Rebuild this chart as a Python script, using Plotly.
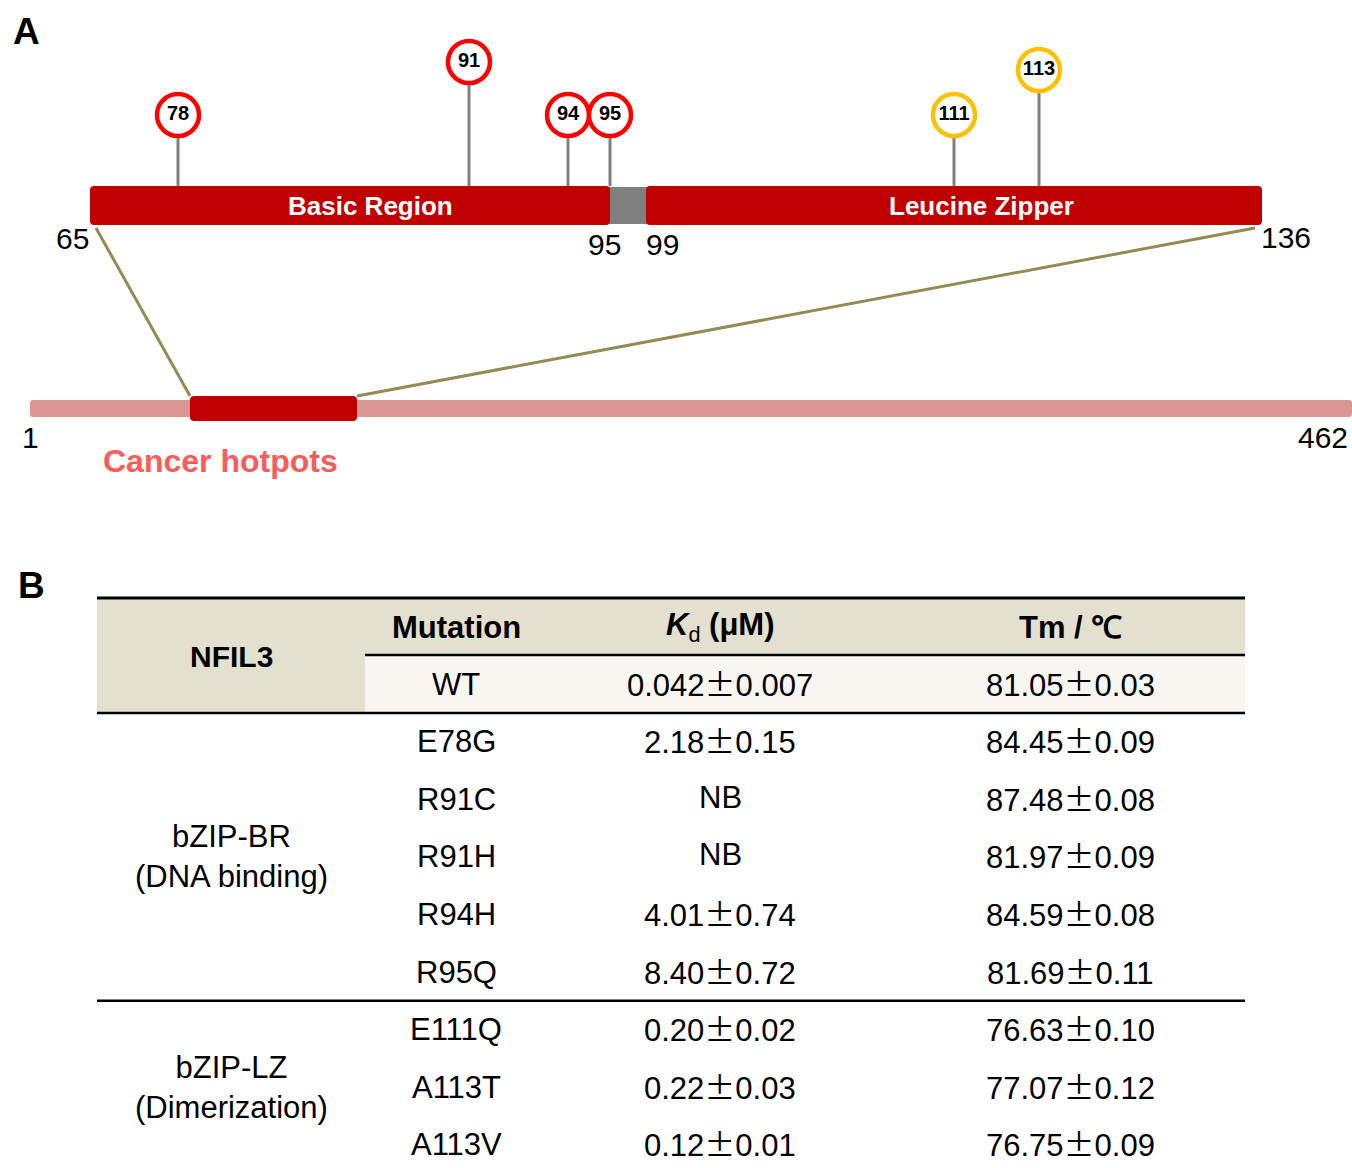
import plotly.graph_objects as go

# ---------------- data ----------------
domain_names = ["Basic Region", "Leucine Zipper"]
domain_bounds = [65, 95, 99, 136]          # residue boundaries labelled on the zoom bar
full_bounds = [1, 462]                      # full-length protein
mut_residues = [78, 91, 94, 95, 111, 113]
mut_group = ["BR", "BR", "BR", "BR", "LZ", "LZ"]
hotspot_label = "Cancer hotpots"

groups = ["bZIP-BR<br>(DNA binding)", "bZIP-LZ<br>(Dimerization)"]
group_sizes = [5, 3]
mutations = ["WT", "E78G", "R91C", "R91H", "R94H", "R95Q", "E111Q", "A113T", "A113V"]
kd_vals = ["0.042±0.007", "2.18±0.15", "NB", "NB", "4.01±0.74", "8.40±0.72",
           "0.20±0.02", "0.22±0.03", "0.12±0.01"]
tm_vals = ["81.05±0.03", "84.45±0.09", "87.48±0.08", "81.97±0.09", "84.59±0.08",
           "81.69±0.11", "76.63±0.10", "77.07±0.12", "76.75±0.09"]

# ---------------- schematic layout (pixel canvas) ----------------
W, H = 1352, 1168
FONT = "Liberation Sans, Arial, sans-serif"
DARKRED = "#C00000"
bar_y0, bar_y1 = 186, 225
dom_px = {65: 90, 95: 610, 99: 646, 136: 1262}
lolli_px = {78: 178, 91: 469, 94: 568, 95: 610, 111: 954, 113: 1039}
lolli_level = {78: 115, 91: 62, 94: 115, 95: 115, 111: 115, 113: 70}
group_color = {"BR": "#FF0000", "LZ": "#FFC000"}
full_px = {1: 30, 462: 1352}
hot_x0, hot_x1 = 190, 357

def rrect(x0, y0, x1, y1, r):
    return (f"M{x0+r},{y0} L{x1-r},{y0} Q{x1},{y0} {x1},{y0+r} L{x1},{y1-r} "
            f"Q{x1},{y1} {x1-r},{y1} L{x0+r},{y1} Q{x0},{y1} {x0},{y1-r} "
            f"L{x0},{y0+r} Q{x0},{y0} {x0+r},{y0} Z")

shapes = []
annotations = []

def text(x, y, s, size=32, color="black", bold=False, xanchor="center", family=FONT):
    annotations.append(dict(x=x, y=y, xref="x", yref="y", text=(f"<b>{s}</b>" if bold else s),
                            showarrow=False, xanchor=xanchor, yanchor="middle",
                            font=dict(size=size, color=color, family=family)))

# Panel labels
text(11, 31, "A", size=37, bold=True, xanchor="left")
text(16, 585, "B", size=37, bold=True, xanchor="left")

# ---- domain bar ----
shapes.append(dict(type="rect", x0=dom_px[95] - 2, x1=dom_px[99] + 2, y0=bar_y0 + 1, y1=bar_y1 - 1,
                   fillcolor="#808080", line_width=0, layer="below"))
shapes.append(dict(type="path", path=rrect(dom_px[65], bar_y0, dom_px[95], bar_y1, 4),
                   fillcolor=DARKRED, line=dict(width=0)))
shapes.append(dict(type="path", path=rrect(dom_px[99], bar_y0, dom_px[136], bar_y1, 4),
                   fillcolor=DARKRED, line=dict(width=0)))
text(370, 206, domain_names[0], size=26, color="white", bold=True)
text(981, 206, domain_names[1], size=26, color="white", bold=True)
text(72, 238, str(domain_bounds[0]), size=30)
text(604, 244, str(domain_bounds[1]), size=30)
text(662, 244, str(domain_bounds[2]), size=30)
text(1286, 237, str(domain_bounds[3]), size=30)

# ---- full-length bar ----
shapes.append(dict(type="path", path=rrect(full_px[1], 400, full_px[462], 417, 3),
                   fillcolor="#D99694", line=dict(width=0)))
shapes.append(dict(type="path", path=rrect(hot_x0, 396, hot_x1, 421, 4),
                   fillcolor=DARKRED, line=dict(width=0)))
text(30, 437, str(full_bounds[0]), size=30)
text(1323, 437, str(full_bounds[1]), size=30)
text(220, 461, hotspot_label, size=32, color="#FF5B5B", bold=True)

# connectors
shapes.append(dict(type="line", x0=96, y0=228, x1=hot_x0, y1=396, line=dict(color="#948A54", width=3)))
shapes.append(dict(type="line", x0=1255, y0=228, x1=hot_x1, y1=396, line=dict(color="#948A54", width=3)))

fig = go.Figure()

# lollipop stems
sx, sy = [], []
for r in mut_residues:
    sx += [lolli_px[r], lolli_px[r], None]
    sy += [lolli_level[r], bar_y0, None]
fig.add_trace(go.Scatter(x=sx, y=sy, mode="lines", line=dict(color="#808080", width=3),
                         hoverinfo="skip", showlegend=False))
# lollipop heads
fig.add_trace(go.Scatter(
    x=[lolli_px[r] for r in mut_residues], y=[lolli_level[r] for r in mut_residues],
    mode="markers+text", text=[f"<b>{r}</b>" for r in mut_residues],
    textposition="middle center", textfont=dict(size=20, color="black", family=FONT),
    marker=dict(size=42, color="white",
                line=dict(color=[group_color[g] for g in mut_group], width=4.5)),
    hoverinfo="skip", showlegend=False))

# ---------------- table ----------------
tx0, tx1 = 97, 1245
col_split = 365
cx_group, cx_mut, cx_kd, cx_tm = 231, 456, 720, 1070
t_top, hdr_mid, hdr_bot = 598, 655, 713
row_h = 57.6

shapes.append(dict(type="rect", x0=tx0, x1=tx1, y0=t_top, y1=hdr_mid, fillcolor="#E4E0D0",
                   line_width=0, layer="below"))
shapes.append(dict(type="rect", x0=tx0, x1=col_split, y0=hdr_mid, y1=hdr_bot, fillcolor="#E4E0D0",
                   line_width=0, layer="below"))
shapes.append(dict(type="rect", x0=col_split, x1=tx1, y0=hdr_mid, y1=hdr_bot, fillcolor="#F7F6F1",
                   line_width=0, layer="below"))
shapes.append(dict(type="line", x0=tx0, x1=tx1, y0=t_top, y1=t_top, line=dict(color="black", width=3)))
shapes.append(dict(type="line", x0=col_split, x1=tx1, y0=hdr_mid, y1=hdr_mid, line=dict(color="black", width=2.5)))
shapes.append(dict(type="line", x0=tx0, x1=tx1, y0=hdr_bot, y1=hdr_bot, line=dict(color="black", width=2.5)))

text(cx_group, 656, "NFIL3", size=30, bold=True)
text(cx_mut, 627, "Mutation", size=31, bold=True)
text(cx_kd, 627, "<b><i>K</i></b><sub>d</sub><b> (μM)</b>", size=31)
text(cx_tm, 627, "Tm / ℃", size=31, bold=True)

def pm(s):
    return s.replace("±", "<span style='font-family:Noto Sans CJK SC'>±</span>")

row_y0 = 684
for i, (m, k, t) in enumerate(zip(mutations, kd_vals, tm_vals)):
    y = row_y0 + i * row_h
    text(cx_mut, y, m, size=31)
    text(cx_kd, y - 2, pm(k), size=31)
    text(cx_tm, y - 2, pm(t), size=31)

start = 1
for g, n in zip(groups, group_sizes):
    ymid = row_y0 + (start + (n - 1) / 2) * row_h
    text(cx_group, ymid, g, size=31)
    start += n
sep_y = row_y0 + 5.5 * row_h
shapes.append(dict(type="line", x0=tx0, x1=tx1, y0=sep_y, y1=sep_y, line=dict(color="black", width=2.5)))

fig.update_layout(
    width=W, height=H, margin=dict(l=0, r=0, t=0, b=0),
    plot_bgcolor="white", paper_bgcolor="white",
    xaxis=dict(range=[0, W], visible=False, fixedrange=True),
    yaxis=dict(range=[H, 0], visible=False, fixedrange=True),
    shapes=shapes, annotations=annotations, showlegend=False,
)
fig.write_html("out.html", config={"displayModeBar": False},
               post_script="document.body.style.margin='0';document.body.style.overflow='hidden';")
